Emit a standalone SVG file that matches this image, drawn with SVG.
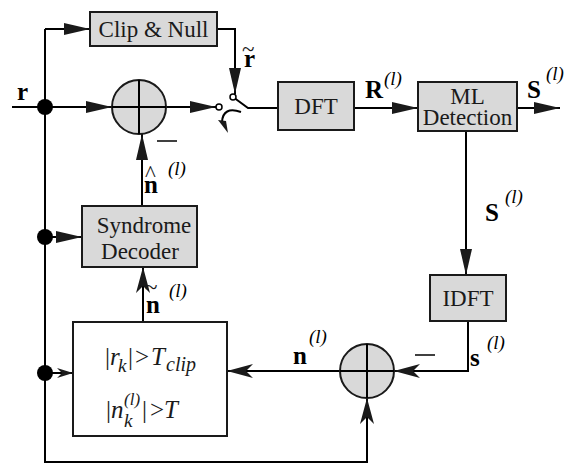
<svg xmlns="http://www.w3.org/2000/svg" width="580" height="464" viewBox="0 0 580 464">
<style>
.ln{stroke:#000;stroke-width:2;fill:none}
.box{fill:#d9d9d9;stroke:#1a1a1a;stroke-width:2}
.wbox{fill:#fff;stroke:#1a1a1a;stroke-width:2}
text{font-family:"Liberation Serif","Times New Roman",serif}
.t{font-size:23px;fill:#1a1a1a}
.b{font-size:25px;font-weight:bold;fill:#000}
.i{font-size:19px;font-style:italic;fill:#000}
.m{font-size:25px;font-style:italic;fill:#1a1a1a}
.dot{fill:#000}
.sw{fill:#fff;stroke:#000;stroke-width:1.5}
</style>
<defs>
<marker id="tri" markerUnits="userSpaceOnUse" markerWidth="26" markerHeight="14" refX="26" refY="7" orient="auto"><path d="M0,1 L26,7 L0,13 z" fill="#1a1a1a"/></marker>
<marker id="notch" markerUnits="userSpaceOnUse" markerWidth="26" markerHeight="14" refX="26" refY="7" orient="auto"><path d="M0,0 L26,7 L0,14 L7,7 z" fill="#1a1a1a"/></marker>
<marker id="small" markerUnits="userSpaceOnUse" markerWidth="16" markerHeight="10" refX="16" refY="5" orient="auto"><path d="M0,0 L16,5 L0,10 L5,5 z" fill="#1a1a1a"/></marker>
</defs>

<g id="connectors">
<path class="ln" d="M12,107 H45"/>
<path class="ln" d="M45,107 H112" marker-end="url(#tri)"/>
<path class="ln" d="M45,29 V462 H367 V398" marker-end="url(#notch)"/>
<path class="ln" d="M45,29 H90" marker-end="url(#tri)"/>
<path class="ln" d="M217,29 H235 V94" marker-end="url(#tri)"/>
<path class="ln" d="M166,107 H216" marker-end="url(#tri)"/>
<path class="ln" d="M233,97 L248,108 H278"/>
<path class="ln" d="M241,112 Q223,106 222,122" stroke-width="1.6"/>
<path d="M218,120 L228,133 L226,121 z" fill="#1a1a1a"/>
<path class="ln" d="M354,108 H418" marker-end="url(#tri)"/>
<path class="ln" d="M517,108 H560" marker-end="url(#tri)"/>
<path class="ln" d="M466,131 V275" marker-end="url(#tri)"/>
<path class="ln" d="M468,321 V371 H394" marker-end="url(#notch)"/>
<path class="ln" d="M340,371 H227" marker-end="url(#notch)"/>
<path class="ln" d="M143,322 V267" marker-end="url(#notch)"/>
<path class="ln" d="M142,206 V134" marker-end="url(#tri)"/>
<path class="ln" d="M45,237 H82" marker-end="url(#tri)"/>
<path class="ln" d="M45,373 H73" marker-end="url(#small)"/>
<line x1="157" y1="141" x2="177" y2="141" stroke="#000" stroke-width="1.5"/>
<line x1="415" y1="355" x2="435" y2="355" stroke="#000" stroke-width="1.5"/>
<circle class="dot" cx="45" cy="107" r="8"/>
<circle class="dot" cx="45" cy="237" r="8"/>
<circle class="dot" cx="45" cy="373" r="8"/>
<circle class="sw" cx="219" cy="107" r="3"/>
<circle class="sw" cx="233" cy="97" r="3"/>
</g>

<g id="labels">
<text class="b" x="17" y="100">r</text>
<text class="b" x="244" y="67">r</text>
<text class="t" x="242" y="57" font-size="30">~</text>
<text class="b" x="365" y="98">R</text>
<text class="i" x="384" y="85">(l)</text>
<text class="b" x="527" y="98">S</text>
<text class="i" x="546" y="80">(l)</text>
<text class="b" x="485" y="221">S</text>
<text class="i" x="505" y="203">(l)</text>
<text class="b" x="470" y="366">s</text>
<text class="i" x="487" y="349">(l)</text>
<text class="b" x="293" y="364">n</text>
<text class="i" x="309" y="343">(l)</text>
<text class="b" x="144" y="193">n</text>
<text class="t" x="145" y="181" font-size="20">^</text>
<text class="i" x="168" y="175">(l)</text>
<text class="b" x="146" y="313">n</text>
<text class="t" x="145" y="295" font-size="30">~</text>
<text class="i" x="169" y="297">(l)</text>
</g>

<g id="clipnull">
<rect class="box" x="90" y="12" width="127" height="34"/>
<text class="t" x="153.5" y="37" text-anchor="middle">Clip &amp; Null</text>
</g>

<g id="adder1">
<circle class="box" cx="139" cy="107" r="27"/>
<path class="ln" d="M112,107 H166 M139,80 V134" stroke-width="1.5"/>
</g>

<g id="dft">
<rect class="box" x="278" y="82" width="76" height="48"/>
<text class="t" x="316" y="114" text-anchor="middle">DFT</text>
</g>

<g id="ml">
<rect class="box" x="418" y="82" width="99" height="49"/>
<text class="t" x="467.5" y="104" text-anchor="middle">ML</text>
<text class="t" x="467.5" y="125" text-anchor="middle">Detection</text>
</g>

<g id="syndrome">
<rect class="box" x="82" y="206" width="115" height="61"/>
<text class="t" x="144" y="233" text-anchor="middle">Syndrome</text>
<text class="t" x="140" y="259" text-anchor="middle">Decoder</text>
</g>

<g id="idft">
<rect class="box" x="430" y="275" width="76" height="46"/>
<text class="t" x="468" y="306" text-anchor="middle">IDFT</text>
</g>

<g id="adder2">
<circle class="box" cx="367" cy="371" r="27"/>
<path class="ln" d="M340,371 H394 M367,344 V398" stroke-width="1.5"/>
</g>

<g id="threshold">
<rect class="wbox" x="73" y="322" width="154" height="114"/>
<text class="m" x="105" y="365"><tspan font-style="normal">|</tspan><tspan x="110">r</tspan><tspan font-size="19" x="118" y="372">k</tspan><tspan x="128" y="365" font-style="normal">|</tspan><tspan x="135" font-style="normal">&gt;</tspan><tspan x="151">T</tspan><tspan x="166" y="371" font-size="20">clip</tspan></text>
<text class="m" x="106" y="418"><tspan font-style="normal">|</tspan><tspan x="111">n</tspan><tspan font-size="19" x="124" y="427">k</tspan><tspan font-size="17" x="124" y="405">(l)</tspan><tspan x="142" y="418" font-style="normal">|</tspan><tspan x="150" font-style="normal">&gt;</tspan><tspan x="164">T</tspan></text>
</g>
</svg>
